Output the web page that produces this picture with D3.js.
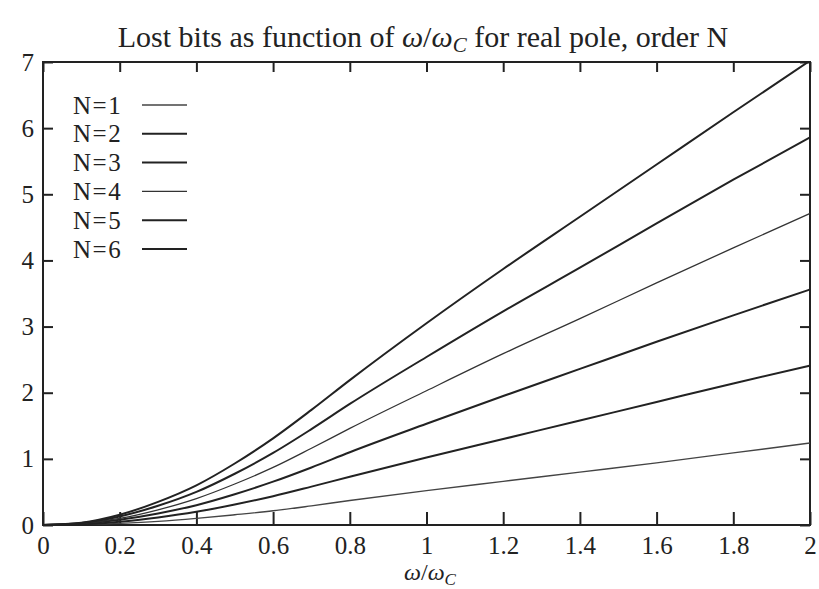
<!DOCTYPE html>
<html>
    <head>
        <title>Lost bits</title>
        <script src="https://cdn.jsdelivr.net/npm/d3@7"></script>
        <style>
            body { margin: 0; background: #fff; }
        </style>
    </head>
    <body>
        <svg width="819" height="589" id="mainsvg"></svg>
        <script>
            // data
            const omega = [0, 0.1, 0.2, 0.3, 0.4, 0.5, 0.6, 0.7, 0.8, 1.0, 1.2, 1.4, 1.6, 1.8, 2.0];
            const lostN1 = [0, 0.005, 0.025, 0.055, 0.10, 0.155, 0.215, 0.29, 0.37, 0.52, 0.66, 0.80, 0.94, 1.09, 1.24];
            const lostN2 = [0, 0.01, 0.05, 0.115, 0.20, 0.31, 0.435, 0.58, 0.73, 1.02, 1.30, 1.58, 1.86, 2.14, 2.41];
            const lostN3 = [0, 0.02, 0.08, 0.175, 0.30, 0.465, 0.655, 0.87, 1.10, 1.53, 1.95, 2.36, 2.77, 3.17, 3.56];
            const lostN4 = [0, 0.025, 0.10, 0.23, 0.40, 0.62, 0.87, 1.16, 1.46, 2.03, 2.59, 3.12, 3.66, 4.19, 4.71];
            const lostN5 = [0, 0.03, 0.13, 0.29, 0.50, 0.775, 1.09, 1.45, 1.83, 2.54, 3.23, 3.89, 4.56, 5.22, 5.86];
            const lostN6 = [0, 0.035, 0.155, 0.35, 0.60, 0.93, 1.31, 1.74, 2.19, 3.05, 3.87, 4.66, 5.45, 6.24, 7.02];
            const seriesNames = ["N=1", "N=2", "N=3", "N=4", "N=5", "N=6"];
            const xTicks = [0, 0.2, 0.4, 0.6, 0.8, 1, 1.2, 1.4, 1.6, 1.8, 2];
            const yTicks = [0, 1, 2, 3, 4, 5, 6, 7];

            const allSeries = [lostN1, lostN2, lostN3, lostN4, lostN5, lostN6];
            const lineWidth = [1.4, 2, 2, 1.3, 2, 2];
            const lineColor = ["#444", "#222", "#222", "#333", "#222", "#222"];
            const serif = "'Liberation Serif', 'Times New Roman', Times, serif";

            const svg = d3.select("#mainsvg");
            const margin = {top: 62, right: 9, bottom: 64, left: 43};
            const width = +svg.attr("width");
            const height = +svg.attr("height");
            const innerW = width - margin.left - margin.right;
            const innerH = height - margin.top - margin.bottom;

            const xScale = d3.scaleLinear().domain([0, 2]).range([0, innerW]);
            const yScale = d3.scaleLinear().domain([0, 7]).range([innerH, 0]);

            const g = svg.append("g")
                .attr("transform", `translate(${margin.left}, ${margin.top})`);

            // clip so the curves stay inside the frame
            svg.append("clipPath").attr("id", "plotclip")
                .append("rect").attr("width", innerW).attr("height", innerH);

            // axes: ticks point inward, labels outside
            const xAxis = d3.axisBottom(xScale).tickValues(xTicks)
                .tickSize(-13).tickPadding(11).tickFormat(d3.format("~g"));
            const xg = g.append("g").attr("transform", `translate(0, ${innerH})`).call(xAxis);
            const xTop = g.append("g").call(d3.axisTop(xScale).tickValues(xTicks).tickSize(-10).tickFormat(""));
            const yAxis = d3.axisLeft(yScale).tickValues(yTicks).tickSize(-10).tickPadding(9)
                .tickFormat(d3.format("d"));
            const yg = g.append("g").call(yAxis);
            const yRight = g.append("g").attr("transform", `translate(${innerW}, 0)`)
                .call(d3.axisRight(yScale).tickValues(yTicks).tickSize(-10).tickFormat(""));

            [xg, xTop, yg, yRight].forEach(a => {
                a.select(".domain").remove();
                a.attr("font-family", serif).attr("font-size", 25);
                a.selectAll(".tick line").attr("stroke", "#222").attr("stroke-width", 2);
                a.selectAll(".tick text").attr("fill", "#222");
            });

            // frame
            g.append("rect")
                .attr("width", innerW).attr("height", innerH)
                .attr("fill", "none").attr("stroke", "#222").attr("stroke-width", 2);

            // curves
            const line = d3.line()
                .x((d, i) => xScale(omega[i]))
                .y(d => yScale(d))
                .curve(d3.curveMonotoneX);

            g.append("g").attr("clip-path", "url(#plotclip)")
                .selectAll("path")
                .data(allSeries)
                .enter().append("path")
                .attr("d", line)
                .attr("fill", "none")
                .attr("stroke", (d, i) => lineColor[i])
                .attr("stroke-width", (d, i) => lineWidth[i]);

            // legend
            const legend = g.selectAll(".legend")
                .data(seriesNames)
                .enter().append("g")
                .attr("class", "legend")
                .attr("transform", (d, i) => `translate(30, ${43 + i * 28.8})`);

            legend.append("text")
                .attr("x", 0).attr("y", 8.5)
                .attr("font-family", serif)
                .attr("font-size", 25)
                .attr("letter-spacing", 1.5)
                .attr("fill", "#222")
                .text(d => d);

            legend.append("line")
                .attr("x1", 69).attr("x2", 114)
                .attr("stroke", (d, i) => lineColor[i])
                .attr("stroke-width", (d, i) => lineWidth[i]);

            // title
            const title = svg.append("text")
                .attr("x", 423).attr("y", 47)
                .attr("text-anchor", "middle")
                .attr("font-family", serif)
                .attr("fill", "#222")
                .attr("font-size", 30);
            title.append("tspan").text("Lost bits as function of ");
            title.append("tspan").attr("font-style", "italic").text("ω");
            title.append("tspan").text("/");
            title.append("tspan").attr("font-style", "italic").text("ω");
            title.append("tspan").attr("font-style", "italic").attr("font-size", 21).attr("dy", 5).text("C");
            title.append("tspan").attr("dy", -5).text(" for real pole, order N");

            // x axis label
            const xl = svg.append("text")
                .attr("x", 430).attr("y", 580)
                .attr("text-anchor", "middle")
                .attr("font-family", serif)
                .attr("fill", "#222")
                .attr("font-size", 24);
            xl.append("tspan").attr("font-style", "italic").text("ω");
            xl.append("tspan").text("/");
            xl.append("tspan").attr("font-style", "italic").text("ω");
            xl.append("tspan").attr("font-style", "italic").attr("font-size", 17).attr("dy", 5).text("C");
        </script>
    </body>
</html>
